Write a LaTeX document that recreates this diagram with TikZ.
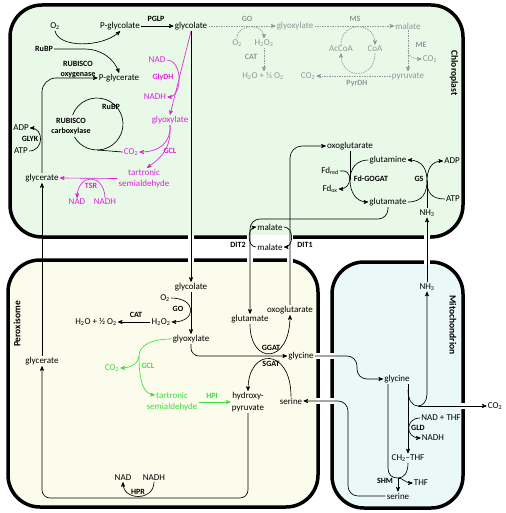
\documentclass[tikz,border=0pt]{standalone}
\usepackage{fontspec}
\setmainfont{Carlito}
\usepackage{tikz}
\usetikzlibrary{arrows}
\definecolor{chlfill}{HTML}{E8F9E8}
\definecolor{perfill}{HTML}{FCFCEC}
\definecolor{mitfill}{HTML}{EAF8F8}
\definecolor{glymag}{HTML}{DD22DD}
\definecolor{pergreen}{HTML}{3EDC3E}
\definecolor{gopgray}{HTML}{8C9A9A}
\tikzset{
	met node/.style={inner sep=1pt,font=\fontsize{9}{11}\selectfont,align=center},
	enz node/.style={inner sep=1pt,font=\fontsize{8}{10}\selectfont\bfseries,align=center},
	comp label/.style={inner sep=0pt,font=\fontsize{9.5}{11}\selectfont\bfseries},
	envelope/.style={line width=3.5pt,rounded corners=32},
	gap/.style={draw=white,line width=5pt},
	bypass route/.style={gopgray,dash pattern=on 1.5pt off 1pt}
}

\begin{document}
\begin{tikzpicture}[>=stealth',x=1pt,y=-1pt,line width=0.65pt]
		\useasboundingbox (0,0) rectangle (505,513);
		% compartments
		\draw[envelope,fill=chlfill] (10,5) rectangle (463,237);
		\draw[envelope,fill=perfill] (8,260) rectangle (318,507);
		\draw[envelope,fill=mitfill] (332,262) rectangle (463,508);
		\draw[gap] (247,237) -- (293,237);
		\foreach \x in {191,427} \draw[gap] (\x-3,237) -- (\x+3,237);
		\foreach \x in {191,250,290} \draw[gap] (\x-3,260) -- (\x+3,260);
		\foreach \y in {356,401} {\draw[gap] (318,\y-3) -- (318,\y+3); \draw[gap] (332,\y-3) -- (332,\y+3);}
		\draw[gap] (424,262) -- (430,262);
		\draw[gap] (463,403) -- (463,409);
		\node[comp label,rotate=-90] (chlname) at (454,73) {Chloroplast};
		\node[comp label,rotate=90] (pername) at (17,324) {Peroxisome};
		\node[comp label,rotate=-90] (mitname) at (453,325) {Mitochondrion};
		% chloroplast
		\node[met node] (O2c) at (55,26) {O\textsubscript{2}};
		\node[enz node] (RuBPo) at (44,49) {RuBP};
		\node[met node] (Pglycolate) at (120,26) {P-glycolate};
		\node[enz node] (PGLP) at (156,19) {PGLP};
		\node[met node] (glycolateC) at (191,26) {glycolate};
		\node[enz node] (RubOx) at (78,70) {RUBISCO\\oxygenase};
		\node[met node] (Pglycerate) at (119,78) {P-glycerate};
		\node[enz node] (RuBPc) at (111,107) {RuBP};
		\node[enz node] (RubCarb) at (71,127) {RUBISCO\\carboxylase};
		\node[met node] (ADPc) at (21,128) {ADP};
		\node[enz node] (GLYK) at (30,139) {GLYK};
		\node[met node] (ATPc) at (21,151) {ATP};
		\node[met node] (glycerateC) at (42,178) {glycerate};
		\node[met node,glymag] (NADg) at (157,60) {NAD};
		\node[enz node,glymag] (GlyDH) at (163,77) {GlyDH};
		\node[met node,glymag] (NADHg) at (155,97) {NADH};
		\node[met node,glymag] (glyoxylateM) at (170,120) {glyoxylate};
		\node[met node,glymag] (CO2gcl) at (131,152) {CO\textsubscript{2}};
		\node[enz node,glymag] (GCLc) at (170,151) {GCL};
		\node[met node,glymag] (tartronicM) at (144,178.5) {tartronic\\semialdehyde};
		\node[enz node,glymag] (TSR) at (91,186) {TSR};
		\node[met node,glymag] (NADt) at (77,202) {NAD};
		\node[met node,glymag] (NADHt) at (105,202) {NADH};
		\node[enz node,gopgray] (GOc) at (247,19) {GO};
		\node[met node,gopgray] (glyoxylateG) at (295,26) {glyoxylate};
		\node[met node,gopgray] (O2g) at (237,43) {O\textsubscript{2}};
		\node[met node,gopgray] (H2O2g) at (264,43) {H\textsubscript{2}O\textsubscript{2}};
		\node[enz node,gopgray] (CATc) at (251,57) {CAT};
		\node[met node,gopgray] (H2Og) at (263,76) {H\textsubscript{2}O + ½ O\textsubscript{2}};
		\node[enz node,gopgray] (MS) at (355,19) {MS};
		\node[met node,gopgray] (malateG) at (408,26) {malate};
		\node[met node,gopgray] (AcCoA) at (341,49) {AcCoA};
		\node[met node,gopgray] (CoA) at (375,49) {CoA};
		\node[enz node,gopgray] (ME) at (421,45) {ME};
		\node[met node,gopgray] (CO2me) at (430,59) {CO\textsubscript{2}};
		\node[met node,gopgray] (CO2pd) at (308,76) {CO\textsubscript{2}};
		\node[met node,gopgray] (pyruvateG) at (408,76) {pyruvate};
		\node[enz node,gopgray] (PyrDH) at (357,84) {PyrDH};
		\node[met node] (oxoglutarateC) at (350,146) {oxoglutarate};
		\node[met node] (glutamineC) at (388,160) {glutamine};
		\node[met node] (Fdred) at (330,171) {Fd\textsubscript{red}};
		\node[enz node] (FdGOGAT) at (371,179) {Fd-GOGAT};
		\node[met node] (Fdox) at (330,189) {Fd\textsubscript{ox}};
		\node[met node] (glutamateC) at (388,202) {glutamate};
		\node[enz node] (GS) at (419,179) {GS};
		\node[met node] (ADPn) at (452,161) {ADP};
		\node[met node] (ATPn) at (453,199) {ATP};
		\node[met node] (NH3c) at (427,213) {NH\textsubscript{3}};
		% envelope transport
		\node[met node] (malateU) at (270,227) {malate};
		\node[met node] (malateL) at (270,247) {malate};
		\node[enz node] (DITtwo) at (238,245) {DIT2};
		\node[enz node] (DITone) at (305,245) {DIT1};
		% peroxisome
		\node[met node] (glycolateP) at (191,287) {glycolate};
		\node[met node] (O2p) at (165,298) {O\textsubscript{2}};
		\node[enz node] (GOp) at (178,309) {GO};
		\node[met node] (H2O2p) at (161,322) {H\textsubscript{2}O\textsubscript{2}};
		\node[enz node] (CATp) at (136,315) {CAT};
		\node[met node] (H2Op) at (96,322) {H\textsubscript{2}O + ½ O\textsubscript{2}};
		\node[met node] (glyoxylateP) at (191,339) {glyoxylate};
		\node[met node] (glutamateP) at (250,319) {glutamate};
		\node[met node] (oxoglutarateP) at (290,310) {oxoglutarate};
		\node[enz node] (GGAT) at (271,348) {GGAT};
		\node[enz node] (SGAT) at (271,364) {SGAT};
		\node[met node] (glycineP) at (301,356) {glycine};
		\node[met node,pergreen] (CO2p) at (112,368) {CO\textsubscript{2}};
		\node[enz node,pergreen] (GCLp) at (148,366) {GCL};
		\node[met node,pergreen] (tartronicP) at (172,395) {tartronic};
		\node[met node,pergreen] (semialdP) at (172,407) {semialdehyde};
		\node[enz node,pergreen] (HPI) at (212,396) {HPI};
		\node[met node,font=\fontsize{9}{12}\selectfont] (hydroxypyr) at (248,402) {hydroxy-\\pyruvate};
		\node[met node] (serineP) at (291,401) {serine};
		\node[met node] (glyceratePx) at (42,361) {glycerate};
		\node[met node] (NADp) at (123,478) {NAD};
		\node[enz node] (HPR) at (138,492) {HPR};
		\node[met node] (NADHp) at (154,478) {NADH};
		% mitochondrion
		\node[met node] (NH3m) at (427,287) {NH\textsubscript{3}};
		\node[met node] (glycineM) at (397,379) {glycine};
		\node[met node] (CO2mt) at (495,406) {CO\textsubscript{2}};
		\node[met node] (NADTHF) at (441,418) {NAD + THF};
		\node[enz node] (GLD) at (418,428) {GLD};
		\node[met node] (NADHm) at (433,438) {NADH};
		\node[met node] (CH2THF) at (408,458) {CH\textsubscript{2}–THF};
		\node[enz node] (SHM) at (385,481) {SHM};
		\node[met node] (THFm) at (421,483) {THF};
		\node[met node] (serineM) at (398,496) {serine};
		\coordinate (mebranch) at (408,50);
		\coordinate (carbfoot) at (97,150);
		\coordinate (gsjoin) at (427,181);
		\coordinate (gogatjoin) at (350,180);
		\coordinate (gclbranch) at (139,356);
		\coordinate (gldsplit) at (408,390);
		\coordinate (gldfoot) at (418,406);
		\coordinate (shmjoin) at (398,478);

		% chloroplast
		\draw[->] (O2c.south) .. controls (58,48) and (102,48) .. (Pglycolate.south);
		\draw[->] (RuBPo.east) -- (85,49) .. controls (100,49) and (114,58) .. (Pglycerate.north);
		\draw[->] (Pglycolate) -- (glycolateC);
		\draw (97,124) ++(-160:26) arc[start angle=-160,end angle=150,radius=26];
		\draw (carbfoot) -- (CO2gcl.west);
		\draw[->,rounded corners=14] (glycerateC.north) |- (Pglycerate.west);
		\draw[->] (ATPc.east) .. controls (44,151) and (44,128) .. (ADPc.east);
		\draw[glymag,->] (glycolateC.south) -- (glyoxylateM.north);
		\draw[glymag,->] (NADg.east) .. controls (183,60) and (183,97) .. (NADHg.east);
		\draw[glymag,->] (glyoxylateM.south) .. controls (171,142) and (160,152) .. (CO2gcl.east);
		\draw[glymag,->] (glyoxylateM.south) .. controls (172,150) and (158,160) .. ([xshift=3pt]tartronicM.north);
		\draw[glymag,->] (tartronicM.west) -- (glycerateC.east);
		\draw[glymag,->] (NADHt.north) .. controls (104,173) and (78,173) .. (NADt.north);
		\draw[bypass route,->] (glycolateC.east) -- (glyoxylateG.west);
		\draw[bypass route,->] (O2g.north) .. controls (237,23) and (264,23) .. (H2O2g.north);
		\draw[bypass route,->] (H2O2g.south) -- (H2O2g.south |- H2Og.north);
		\draw[bypass route,->] (glyoxylateG.east) -- (malateG.west);
		\draw[bypass route,->] (AcCoA.north) .. controls (341,21) and (375,21) .. (CoA.north);
		\draw[bypass route,->] (CoA.south) .. controls (375,80) and (341,80) .. (AcCoA.south);
		\draw[bypass route,->] (pyruvateG.west) -- (CO2pd.east);
		\draw[bypass route,->] (malateG.south) -- (pyruvateG.north);
		\draw[bypass route,->] (mebranch) .. controls (408,57) and (413,59) .. (CO2me.west);
		\draw (oxoglutarateC.south) -- (gogatjoin);
		\draw[->] (glutamineC.west) .. controls (356,160) and (350,169) .. (gogatjoin) .. controls (350,192) and (356,202) .. (glutamateC.west);
		\draw[->] (Fdred.east) .. controls (353,168) and (353,189) .. (Fdox.east);
		\draw[->] (glutamateC.east) .. controls (423,202) and (427,192) .. (gsjoin) .. controls (427,170) and (423,160) .. (glutamineC.east);
		\draw[->] (ATPn.west) .. controls (431,199) and (427,192) .. (gsjoin) .. controls (427,170) and (431,161) .. (ADPn.west);
		\draw (NH3c.north) -- (gsjoin);
		% envelope transport
		\draw[->,rounded corners=12] (oxoglutarateP.north) |- (oxoglutarateC.west);
		\draw[->,rounded corners=10] (glutamateC.south) |- (250,219) -- (glutamateP.north);
		\draw[->] (malateL.west) .. controls (247,247) and (247,228) .. (malateU.west);
		\draw[->] (malateU.east) .. controls (294,227) and (294,247) .. (malateL.east);
		\draw[->] (NH3m.north) -- (NH3c.south);
		\draw[->] (glycolateC.south) -- (glycolateP.north);
		\draw[->] (glyceratePx.north) -- (glycerateC.south);
		% peroxisome
		\draw[->] (glycolateP.south) -- (glyoxylateP.north);
		\draw[->] (O2p.east) .. controls (197,298) and (197,322) .. (H2O2p.east);
		\draw[->] (H2O2p.west) -- (H2Op.east);
		\draw[->,rounded corners=8] (glyoxylateP.south) |- (glycineP.west);
		\draw[->] (glutamateP.south) .. controls (250,365) and (290,365) .. (oxoglutarateP.south);
		\draw[->] (serineP.north) .. controls (291,347) and (248,347) .. (hydroxypyr.north);
		\draw[pergreen] (glyoxylateP.west) .. controls (152,339) and (139,345) .. (gclbranch);
		\draw[pergreen,->] (gclbranch) .. controls (139,363) and (131,368) .. (CO2p.east);
		\draw[pergreen,->] (gclbranch) .. controls (139,383) and (144,394) .. (tartronicP.west);
		\draw[pergreen,->] (semialdP.east |- hydroxypyr.west) -- (hydroxypyr.west);
		\draw[->,rounded corners=8] (hydroxypyr.south) |- (42,498) -- (glyceratePx.south);
		\draw[->] (NADHp.south) .. controls (154,501) and (123,501) .. (NADp.south);
		\draw[->,rounded corners=10] (glycineP.east) -| (357,379) -- (glycineM.west);
		\draw[->,rounded corners=10] (serineM.west) -| (348,401) -- (serineP.east);
		% mitochondrion
		\draw[->] ([xshift=11pt]glycineM.south) -- (CH2THF.north);
		\draw[->] (gldsplit) .. controls (408,401) and (413,406) .. (gldfoot) .. controls (423,406) and (427,401) .. (427,394) -- (NH3m.south);
		\draw[->] (gldfoot) -- (CO2mt.west);
		\draw[->] (NADTHF.west) .. controls (405,418) and (405,438) .. (NADHm.west);
		\draw ([xshift=-9pt]glycineM.south) -- (388,468) .. controls (388,475) and (392,478) .. (shmjoin);
		\draw (CH2THF.south) .. controls (408,473) and (404,478) .. (shmjoin);
		\draw[->] (shmjoin) -- (serineM.north);
		\draw[->] (shmjoin) .. controls (403,478) and (405,483) .. (THFm.west);
\end{tikzpicture}
\end{document}
